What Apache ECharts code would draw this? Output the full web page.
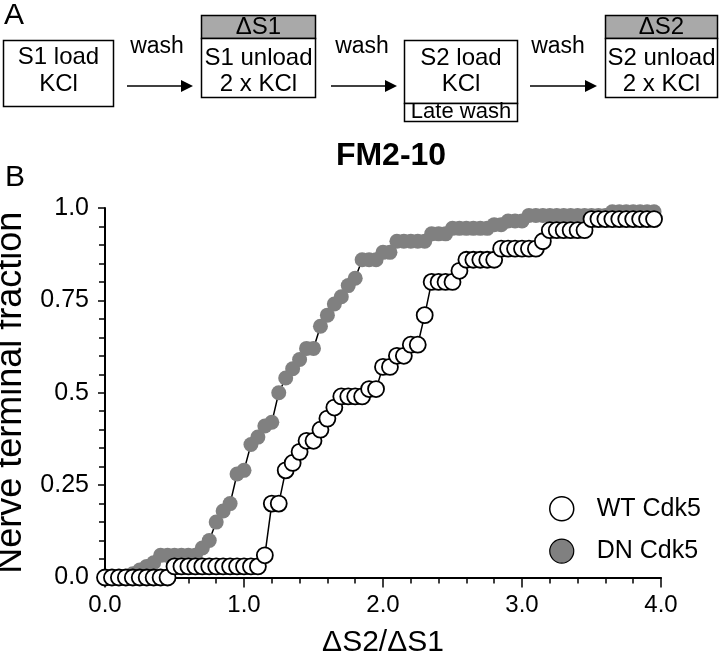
<!DOCTYPE html>
<html><head><meta charset="utf-8">
<script src="https://cdn.jsdelivr.net/npm/echarts@6/dist/echarts.min.js"></script>
<style>html,body{margin:0;padding:0;background:#fff}#c{width:720px;height:662px}</style>
</head><body><div id="c"></div>
<script>
// ---- data ----
const xValues = [0.00,0.05,0.10,0.15,0.20,0.25,0.30,0.35,0.40,0.45,
                 0.50,0.55,0.60,0.65,0.70,0.75,0.80,0.85,0.90,0.95,
                 1.00,1.05,1.10,1.15,1.20,1.25,1.30,1.35,1.40,1.45,
                 1.50,1.55,1.60,1.65,1.70,1.75,1.80,1.85,1.90,1.95,
                 2.00,2.05,2.10,2.15,2.20,2.25,2.30,2.35,2.40,2.45,
                 2.50,2.55,2.60,2.65,2.70,2.75,2.80,2.85,2.90,2.95,
                 3.00,3.05,3.10,3.15,3.20,3.25,3.30,3.35,3.40,3.45,
                 3.50,3.55,3.60,3.65,3.70,3.75,3.80,3.85,3.90,3.95];
const wtValues = [0,0,0,0,0,0,0,0,0,0,
                  0.03,0.03,0.03,0.03,0.03,0.03,0.03,0.03,0.03,0.03,
                  0.03,0.03,0.03,0.06,0.20,0.20,0.29,0.31,0.34,0.37,
                  0.37,0.40,0.43,0.46,0.49,0.49,0.49,0.49,0.51,0.51,
                  0.57,0.57,0.60,0.60,0.63,0.63,0.71,0.80,0.80,0.80,
                  0.80,0.83,0.86,0.86,0.86,0.86,0.86,0.89,0.89,0.89,
                  0.89,0.89,0.89,0.91,0.94,0.94,0.94,0.94,0.94,0.94,
                  0.97,0.97,0.97,0.97,0.97,0.97,0.97,0.97,0.97,0.97];
const dnValues = [0,0,0,0,0.01,0.02,0.03,0.04,0.06,0.06,
                  0.06,0.06,0.06,0.06,0.08,0.10,0.15,0.18,0.20,0.28,
                  0.29,0.36,0.38,0.41,0.42,0.50,0.54,0.565,0.59,0.62,
                  0.62,0.68,0.71,0.74,0.76,0.79,0.81,0.86,0.86,0.86,
                  0.88,0.88,0.91,0.91,0.91,0.91,0.91,0.93,0.93,0.93,
                  0.945,0.945,0.945,0.945,0.945,0.945,0.955,0.955,0.965,0.965,
                  0.965,0.98,0.98,0.98,0.98,0.98,0.98,0.98,0.98,0.98,
                  0.98,0.98,0.98,0.99,0.99,0.99,0.99,0.99,0.99,0.99];
const seriesNames = ['WT Cdk5', 'DN Cdk5'];
const xTickLabels = ['0.0','1.0','2.0','3.0','4.0'];
const yTickLabels = ['0.0','0.25','0.5','0.75','1.0'];
const chartTitle = 'FM2-10';
const xAxisTitle = '\u0394S2/\u0394S1';
const yAxisTitle = 'Nerve terminal fraction';

// ---- panel A scheme (text content) ----
const FONT = 'Liberation Sans, Arial, Helvetica, sans-serif';
const BLACK = '#000';
const GRAYFILL = '#a9a9a9';

function txt(t, x, y, size, weight) {
  return { type: 'text', silent: true, style: { text: t, x: x, y: y, fill: BLACK,
    font: (weight || 'normal') + ' ' + size + 'px ' + FONT,
    textAlign: 'center', textVerticalAlign: 'middle', verticalAlign: 'middle' } };
}
function rect(x, y, w, h, fill) {
  return { type: 'rect', silent: true, shape: { x: x, y: y, width: w, height: h },
    style: { fill: fill || '#fff', stroke: BLACK, lineWidth: 1.5 } };
}
function arrow(x1, x2, y) {
  return [
    { type: 'line', silent: true, shape: { x1: x1, y1: y, x2: x2 - 10, y2: y }, style: { stroke: BLACK, lineWidth: 1.5 } },
    { type: 'polygon', silent: true, shape: { points: [[x2 - 12, y - 6], [x2, y], [x2 - 12, y + 6]] }, style: { fill: BLACK } }
  ];
}
const graphics = [
  { type: 'text', silent: true, style: { text: 'A', x: 4, y: 1, fill: BLACK, font: 'normal 30px ' + FONT } },
  { type: 'text', silent: true, style: { text: 'B', x: 5, y: 163, fill: BLACK, font: 'normal 30px ' + FONT } },
  // box 1
  rect(3.5, 40.5, 110, 66),
  txt('S1 load', 58.5, 57, 24), txt('KCl', 58.5, 84, 24),
  txt('wash', 157, 47, 23), ...arrow(127, 193, 86),
  // box 2
  rect(201.5, 15.5, 114, 23, GRAYFILL), rect(201.5, 38.5, 114, 59),
  txt('\u0394S1', 258.5, 27, 24), txt('S1 unload', 258.5, 58, 24), txt('2 x KCl', 258.5, 84, 24),
  txt('wash', 362, 47, 23), ...arrow(331, 397, 86),
  // box 3
  rect(404.5, 40.5, 113, 63), rect(404.5, 103.5, 113, 18),
  txt('S2 load', 461, 58, 24), txt('KCl', 461, 84, 24), txt('Late wash', 461, 112, 22),
  txt('wash', 558, 47, 23), ...arrow(530, 597, 86),
  // box 4
  rect(605.5, 15.5, 112, 23, GRAYFILL), rect(605.5, 38.5, 112, 59),
  txt('\u0394S2', 661.5, 27, 24), txt('S2 unload', 661.5, 58, 24), txt('2 x KCl', 661.5, 84, 24)
];

const wtData = xValues.map((x, i) => [x, wtValues[i]]);
const dnData = xValues.map((x, i) => [x, dnValues[i]]);

const chart = echarts.init(document.getElementById('c'), null, { renderer: 'canvas' });
chart.setOption({
  animation: false,
  backgroundColor: '#fff',
  textStyle: { fontFamily: FONT, color: BLACK },
  title: {
    text: chartTitle, left: 386, top: 135, textAlign: 'center',
    textStyle: { fontFamily: FONT, fontWeight: 'bold', fontSize: 32, color: BLACK }
  },
  graphic: graphics,
  grid: { left: 105, right: 59, top: 208, bottom: 84.5, containLabel: false, outerBoundsMode: 'none' },
  legend: {
    orient: 'vertical', left: 544, top: 491, itemWidth: 24, itemHeight: 24, itemGap: 17,
    icon: 'circle',
    textStyle: { fontFamily: FONT, fontSize: 25, color: BLACK, padding: [0, 0, 0, 18] },
    data: [
      { name: seriesNames[0], itemStyle: { color: '#fff', borderColor: BLACK, borderWidth: 1.5 } },
      { name: seriesNames[1], itemStyle: { color: '#808080', borderColor: BLACK, borderWidth: 1.2 } }
    ]
  },
  xAxis: {
    type: 'value', min: 0, max: 4, interval: 1,
    name: xAxisTitle, nameLocation: 'middle', nameGap: 50,
    nameTextStyle: { fontFamily: FONT, fontSize: 30, color: BLACK },
    axisLine: { show: true, onZero: false, lineStyle: { color: BLACK, width: 2 } },
    axisTick: { show: true, inside: false, length: 10, lineStyle: { color: BLACK, width: 1.5 } },
    minorTick: { show: true, splitNumber: 5, length: 6, lineStyle: { color: BLACK, width: 1.5 } },
    splitLine: { show: false },
    axisLabel: { margin: 16, fontSize: 24, color: BLACK, fontFamily: FONT,
      formatter: v => xTickLabels[Math.round(v)] }
  },
  yAxis: {
    type: 'value', min: 0, max: 1, interval: 0.25,
    name: yAxisTitle, nameLocation: 'middle', nameGap: 61,
    nameTextStyle: { fontFamily: FONT, fontSize: 36, color: BLACK },
    axisLine: { show: true, onZero: false, lineStyle: { color: BLACK, width: 2 } },
    axisTick: { show: true, inside: false, length: 7, lineStyle: { color: BLACK, width: 1.5 } },
    minorTick: { show: true, splitNumber: 5, length: 6, lineStyle: { color: BLACK, width: 1.5 } },
    splitLine: { show: false },
    axisLabel: { margin: 16, fontSize: 25, color: BLACK, fontFamily: FONT,
      formatter: v => yTickLabels[Math.round(v / 0.25)] }
  },
  series: [
    {
      name: seriesNames[1], type: 'line', data: dnData, showAllSymbol: true,
      symbol: 'circle', symbolSize: 15, z: 2,
      lineStyle: { color: BLACK, width: 1.5 },
      itemStyle: { color: '#808080', borderWidth: 0 },
      emphasis: { disabled: true }
    },
    {
      name: seriesNames[0], type: 'line', data: wtData, showAllSymbol: true,
      symbol: 'circle', symbolSize: 16, z: 3,
      lineStyle: { color: BLACK, width: 1.5 },
      itemStyle: { color: '#fff', borderColor: BLACK, borderWidth: 1.8 },
      emphasis: { disabled: true }
    }
  ]
});
</script>
</body></html>
